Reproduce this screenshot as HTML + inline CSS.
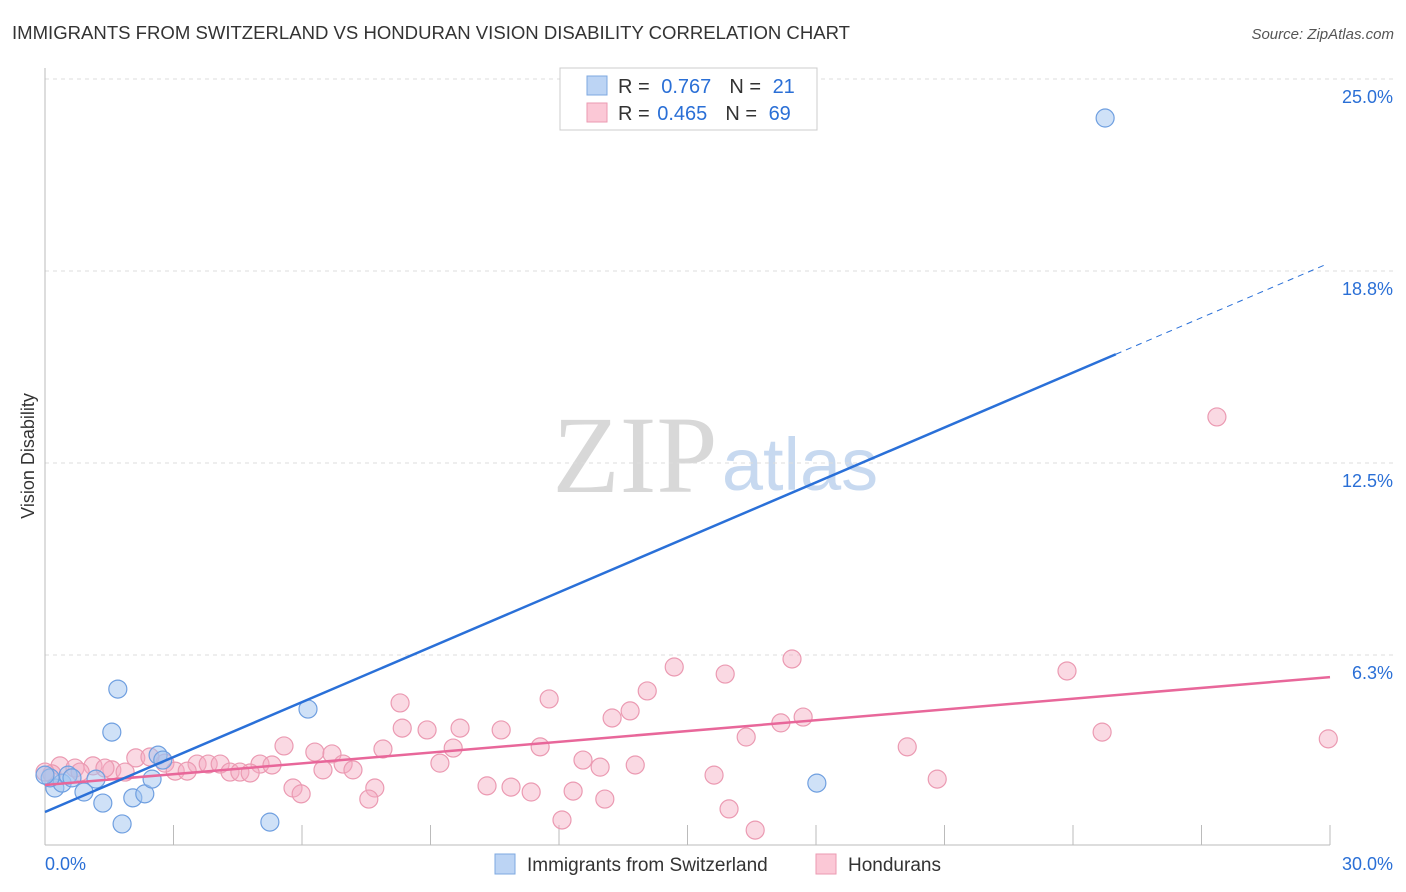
<!DOCTYPE html>
<html><head><meta charset="utf-8"><style>
body{margin:0;background:#fff;font-family:"Liberation Sans",sans-serif}
svg{display:block}
</style></head><body>
<svg id="chart" width="1406" height="892" xmlns="http://www.w3.org/2000/svg">
<text x="12" y="39" font-size="18" fill="#333" textLength="838" lengthAdjust="spacingAndGlyphs">IMMIGRANTS FROM SWITZERLAND VS HONDURAN VISION DISABILITY CORRELATION CHART</text>
<text x="1394" y="39" font-size="15" fill="#555" font-style="italic" text-anchor="end">Source: ZipAtlas.com</text>
<text x="34" y="456" font-size="18" fill="#333" text-anchor="middle" transform="rotate(-90 34 456)">Vision Disability</text>
<g>
<text x="635" y="492" font-size="110" fill="#d8d8d8" font-family="Liberation Serif,serif" text-anchor="middle">ZIP</text>
<text x="800" y="490" font-size="74" fill="#c7d9f0" text-anchor="middle">atlas</text>
</g>
<g id="grid"></g>
<g id="axes"></g>
<g id="marks"></g>
<g>
<rect x="560" y="68" width="257" height="62" fill="#fff" stroke="#ccc"/>
<rect x="587" y="76" width="20" height="19" fill="#bcd4f4" stroke="#7ea8e0"/>
<rect x="587" y="103" width="20" height="19" fill="#fbc8d6" stroke="#eb9ab2"/>
<text x="618" y="93" font-size="20" fill="#333">R = <tspan fill="#2a6fd6" dx="6">0.767</tspan><tspan dx="18">N = </tspan><tspan fill="#2a6fd6" dx="6">21</tspan></text>
<text x="618" y="120" font-size="20" fill="#333">R = <tspan fill="#2a6fd6" dx="2">0.465</tspan><tspan dx="18">N = </tspan><tspan fill="#2a6fd6" dx="6">69</tspan></text>
</g>
<g>
<rect x="495" y="854" width="20" height="20" fill="#bcd4f4" stroke="#7ea8e0"/>
<text x="527" y="871" font-size="19" fill="#333">Immigrants from Switzerland</text>
<rect x="816" y="854" width="20" height="20" fill="#fbc8d6" stroke="#eb9ab2"/>
<text x="848" y="871" font-size="19" fill="#333">Hondurans</text>
</g>
</svg>
<script>
const yTicks=[25,18.75,12.5,6.25];
const yTickLabels=["25.0%","18.8%","12.5%","6.3%"];
const xTickLabels=["0.0%","30.0%"];
const blueX=[24.75,1.70,1.56,6.14,0.23,0.40,0.54,0.91,1.19,1.35,1.80,2.05,2.33,2.50,2.64,2.75,5.25,18.02,0.12,0,0.63];
const blueY=[23.73,5.14,3.74,4.49,1.92,2.08,2.34,1.79,2.21,1.43,0.75,1.60,1.73,2.21,2.99,2.83,0.81,2.08,2.25,2.34,2.25];
const pinkX=[27.36,23.86,17.44,14.69,15.88,14.06,11.77,8.29,13.66,13.24,17.70,17.18,24.68,9.69,8.34,8.92,10.65,16.37,20.13,29.96,5.58,6.30,6.70,7.89,9.53,11.56,12.56,12.96,13.78,9.22,5.02,5.30,6.96,7.19,6.49,2.12,2.80,3.55,3.81,4.09,4.32,4.55,4.79,3.04,3.32,1.12,1.56,1.87,2.45,0.35,0.70,0.16,0,0.82,15.62,20.83,5.79,5.98,7.70,10.32,10.88,11.35,12.33,7.56,13.07,15.97,12.07,16.58,1.40];
const pinkY=[14.00,5.73,6.12,5.86,5.63,5.08,4.82,4.69,4.43,4.20,4.23,4.04,3.74,3.87,3.87,3.81,3.81,3.58,3.26,3.52,3.29,3.09,3.03,3.19,3.22,3.26,2.83,2.60,2.67,2.73,2.70,2.67,2.70,2.51,2.51,2.90,2.73,2.70,2.70,2.70,2.44,2.44,2.41,2.47,2.47,2.64,2.51,2.44,2.93,2.64,2.57,2.38,2.44,2.44,2.34,2.21,1.92,1.73,1.92,1.99,1.95,1.79,1.82,1.56,1.56,1.24,0.88,0.55,2.57];
const blueLine=[1.14,0.596];
const pinkLine=[2.02,0.117];
const X0=45,X1=1330,Y0=847;
const sx=v=>X0+v*(X1-X0)/30;
const sy=v=>Y0-v*30.72;
const NS="http://www.w3.org/2000/svg";
function mk(parent,tag,attrs){const e=document.createElementNS(NS,tag);for(const k in attrs)e.setAttribute(k,attrs[k]);document.getElementById(parent).appendChild(e);return e;}
yTicks.forEach((t,i)=>{
 const g=mk('grid','line',{x1:45,x2:1395,y1:sy(t),y2:sy(t),stroke:'#ddd','stroke-dasharray':'4,4'});
 
 
 const l=mk('grid','text',{x:1393,y:sy(t)+24,'font-size':18,fill:'#2a6fd6','text-anchor':'end'});
 l.textContent=yTickLabels[i];
 
 
});
let a=mk('axes','line',{x1:45,x2:45,y1:68,y2:845,stroke:'#bbb'});


a=mk('axes','line',{x1:45,x2:1330,y1:845,y2:845,stroke:'#bbb'});


for(let i=1;i<=10;i++){const t=mk('axes','line',{x1:sx(i*3),x2:sx(i*3),y1:825,y2:845,stroke:'#bbb'});
 
 }
[[0,45,'start'],[30,1393,'end']].forEach((p,i)=>{const t=mk('axes','text',{x:p[1],y:870,'font-size':18,fill:'#2a6fd6','text-anchor':p[2]});t.textContent=xTickLabels[i];
 
 });
pinkX.forEach((x,i)=>{const c=mk('marks','circle',{cx:sx(x),cy:sy(pinkY[i]),r:9,fill:'rgba(245,170,192,0.45)',stroke:'#eb9ab2','stroke-width':1.2});
 
 });
blueX.forEach((x,i)=>{const c=mk('marks','circle',{cx:sx(x),cy:sy(blueY[i]),r:9,fill:'rgba(160,195,240,0.5)',stroke:'#6f9fe0','stroke-width':1.2});
 
 });
let ln=mk('marks','line',{x1:sx(0),y1:sy(pinkLine[0]),x2:sx(30),y2:sy(pinkLine[0]+pinkLine[1]*30),stroke:'#e8679a','stroke-width':2.5});


ln=mk('marks','line',{x1:sx(0),y1:sy(blueLine[0]),x2:sx(25),y2:sy(blueLine[0]+blueLine[1]*25),stroke:'#2a70d8','stroke-width':2.5});


ln=mk('marks','line',{x1:sx(25),y1:sy(blueLine[0]+blueLine[1]*25),x2:sx(29.9),y2:sy(blueLine[0]+blueLine[1]*29.9),stroke:'#2a70d8','stroke-width':1,'stroke-dasharray':'6,5'});


</script>
</body></html>
